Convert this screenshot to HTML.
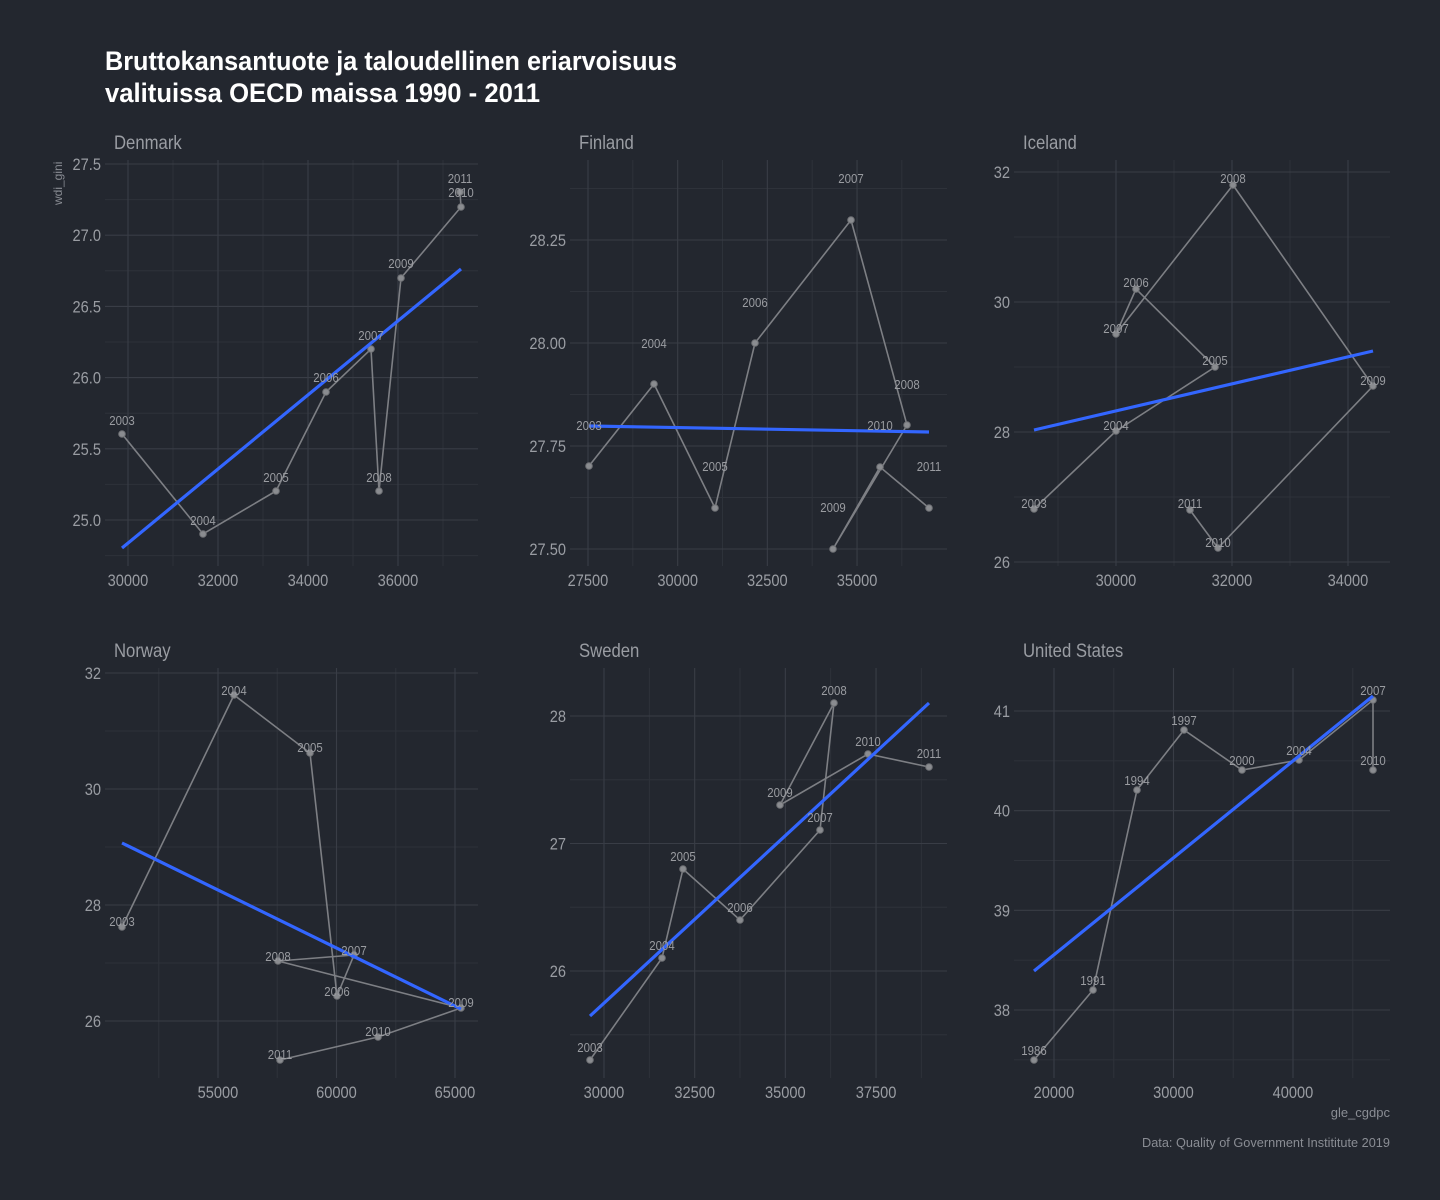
<!DOCTYPE html>
<html><head><meta charset="utf-8"><style>
html,body{margin:0;padding:0;background:#23272f;}
svg{display:block;font-family:"Liberation Sans Narrow","Liberation Sans",sans-serif;}
</style></head><body>
<svg id="s" width="1440" height="1200" xmlns="http://www.w3.org/2000/svg">
<rect width="1440" height="1200" fill="#23272f"/>
<text x="105" y="70" fill="#ffffff" font-size="27" font-weight="bold" textLength="572" lengthAdjust="spacingAndGlyphs">Bruttokansantuote ja taloudellinen eriarvoisuus</text>
<text x="105" y="102" fill="#ffffff" font-size="27" font-weight="bold" textLength="435" lengthAdjust="spacingAndGlyphs">valituissa OECD maissa 1990 - 2011</text>
<text transform="translate(62,205) rotate(-90)" fill="#8a8d94" font-size="12">wdi_gini</text>
<text x="1390" y="1117" fill="#8a8d94" font-size="13" text-anchor="end">gle_cgdpc</text>
<text x="1390" y="1147" fill="#8a8d94" font-size="13" text-anchor="end" textLength="248" lengthAdjust="spacingAndGlyphs">Data: Quality of Government Instititute 2019</text>
</svg>
<script>
var NS="http://www.w3.org/2000/svg",S=document.getElementById('s');
function el(t,a,txt){var e=document.createElementNS(NS,t);for(var k in a)e.setAttribute(k,a[k]);if(txt!=null)e.textContent=txt;S.appendChild(e);return e;}
function rng(a,b,s){var r=[];for(var v=a;v<=b+1e-9;v+=s)r.push(+v.toFixed(4));return r;}
var P=[
{n:"Denmark",x0:105,x1:478,y0:160,y1:566,xv:30000,xp:128,xs:0.045,yv:27.5,yp:164,ys:142.4,
 xM:rng(30000,36000,2000),xm:rng(31000,37000,2000),yM:rng(25,27.5,0.5),ym:rng(24.75,27.25,0.5),yf:1,
 pts:[[122,434,"2003",421],[203,534,"2004",521],[276,491,"2005",478],[326,392,"2006",378],[371,349,"2007",336],[379,491,"2008",478],[401,278,"2009",264],[461,207,"2010",193],[460,192,"2011",179]],tr:[122,548,461,269]},
{n:"Finland",x0:570,x1:947,y0:160,y1:566,xv:27500,xp:588,xs:0.03587,yv:28.25,yp:240,ys:412,
 xM:rng(27500,35000,2500),xm:rng(28750,36250,2500),yM:rng(27.5,28.25,0.25),ym:rng(27.625,28.375,0.25),yf:2,
 pts:[[589,466,"2003",426],[654,384,"2004",344],[715,508,"2005",467],[755,343,"2006",303],[851,220,"2007",179],[907,425,"2008",385],[833,549,"2009",508],[880,467,"2010",426],[929,508,"2011",467]],tr:[589,426,929,432]},
{n:"Iceland",x0:1014,x1:1390,y0:160,y1:566,xv:30000,xp:1116,xs:0.058,yv:32,yp:172,ys:65,
 xM:rng(30000,34000,2000),xm:rng(29000,33000,2000),yM:rng(26,32,2),ym:rng(27,31,2),yf:0,
 pts:[[1034,509,"2003",504],[1116,431,"2004",426],[1215,367,"2005",361],[1136,289,"2006",283],[1116,334,"2007",329],[1233,185,"2008",179],[1373,386,"2009",381],[1218,548,"2010",543],[1190,510,"2011",504]],tr:[1034,430,1373,351]},
{n:"Norway",x0:105,x1:478,y0:668,y1:1078,xv:55000,xp:218,xs:0.0237,yv:32,yp:673,ys:58,
 xM:rng(55000,65000,5000),xm:rng(52500,62500,5000),yM:rng(26,32,2),ym:rng(25,31,2),yf:0,
 pts:[[122,927,"2003",922],[234,695,"2004",691],[310,753,"2005",748],[337,996,"2006",992],[354,955,"2007",951],[278,961,"2008",957],[461,1008,"2009",1003],[378,1037,"2010",1032],[280,1060,"2011",1055]],tr:[122,843,461,1009]},
{n:"Sweden",x0:570,x1:947,y0:668,y1:1078,xv:30000,xp:604,xs:0.03627,yv:28,yp:716,ys:127.5,
 xM:rng(30000,37500,2500),xm:rng(31250,38750,2500),yM:rng(26,28,1),ym:rng(25.5,27.5,1),yf:0,
 pts:[[590,1060,"2003",1048],[662,958,"2004",946],[683,869,"2005",857],[740,920,"2006",908],[820,830,"2007",818],[834,703,"2008",691],[780,805,"2009",793],[868,754,"2010",742],[929,767,"2011",754]],tr:[590,1016,929,703]},
{n:"United States",x0:1014,x1:1390,y0:668,y1:1078,xv:20000,xp:1054,xs:0.01195,yv:41,yp:711,ys:99.67,
 xM:rng(20000,40000,10000),xm:rng(25000,45000,10000),yM:rng(38,41,1),ym:rng(37.5,40.5,1),yf:0,
 pts:[[1034,1060,"1986",1051],[1093,990,"1991",981],[1137,790,"1994",781],[1184,730,"1997",721],[1242,770,"2000",761],[1299,760,"2004",751],[1373,700,"2007",691],[1373,770,"2010",761]],tr:[1034,971,1373,696]}
];
function cond(t,x,f){t.setAttribute('transform','translate('+x+',0) scale('+f+',1) translate('+(-x)+',0)');}
P.forEach(function(p){
 var X=function(v){return p.xp+(v-p.xv)*p.xs},Y=function(v){return p.yp-(v-p.yv)*p.ys};
 p.ym.forEach(function(v){var y=Y(v);if(y>p.y0&&y<p.y1)el('line',{x1:p.x0,x2:p.x1,y1:y,y2:y,stroke:'#2e323a','stroke-width':1});});
 p.xm.forEach(function(v){var x=X(v);if(x>p.x0&&x<p.x1)el('line',{x1:x,x2:x,y1:p.y0,y2:p.y1,stroke:'#2e323a','stroke-width':1});});
 p.yM.forEach(function(v){var y=Y(v);el('line',{x1:p.x0,x2:p.x1,y1:y,y2:y,stroke:'#393d46','stroke-width':1.1});
  var t=el('text',{x:p.x0-4,y:y+6,fill:'#9a9da3','font-size':17,'text-anchor':'end'},v.toFixed(p.yf));cond(t,p.x0-4,0.86);});
 p.xM.forEach(function(v){var x=X(v);el('line',{x1:x,x2:x,y1:p.y0,y2:p.y1,stroke:'#393d46','stroke-width':1.1});
  var t=el('text',{x:x,y:p.y1+20,fill:'#9a9da3','font-size':17,'text-anchor':'middle'},String(v));cond(t,x,0.86);});
 var h=el('text',{x:p.x0+9,y:p.y0-11,fill:'#9a9da3','font-size':19},p.n);cond(h,p.x0+9,0.88);
 el('polyline',{points:p.pts.map(function(q){return q[0]+','+q[1]}).join(' '),fill:'none',stroke:'#7d7f84','stroke-width':1.6});
 p.pts.forEach(function(q){el('circle',{cx:q[0],cy:q[1],r:3.3,fill:'#8a8c90',stroke:'#6f7175','stroke-width':1});});
 el('line',{x1:p.tr[0],y1:p.tr[1],x2:p.tr[2],y2:p.tr[3],stroke:'#3366ff','stroke-width':3.2});
 p.pts.forEach(function(q){var t=el('text',{x:q[0],y:q[3]+4,fill:'#9a9ca1','font-size':13,'text-anchor':'middle'},q[2]);cond(t,q[0],0.88);});
});
</script>
</body></html>
